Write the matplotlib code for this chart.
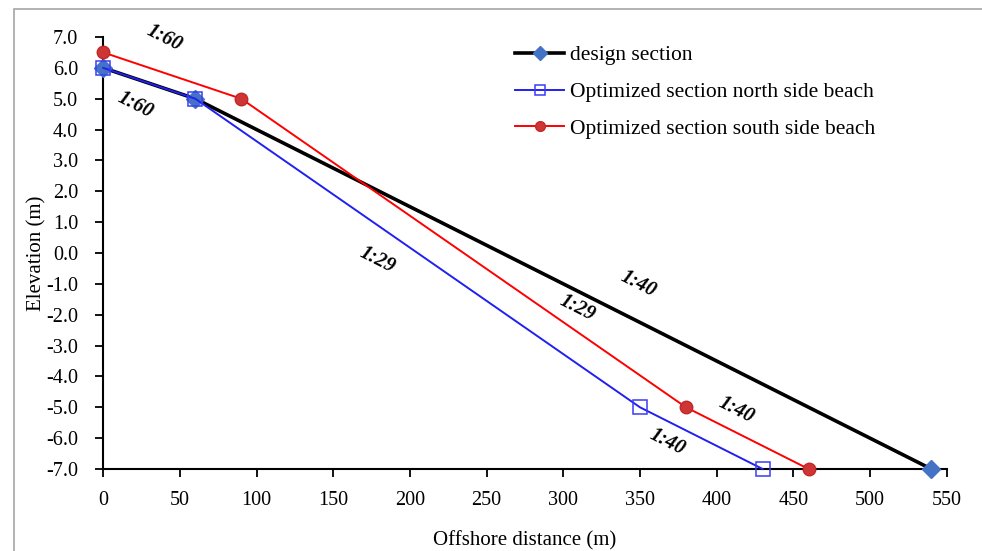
import matplotlib.pyplot as plt
from matplotlib.patches import Rectangle

# Beach profile sections: offshore distance (m) vs elevation (m)
design_x = [0, 60, 540]
design_y = [6.0, 5.0, -7.0]

north_x = [0, 60, 350, 430]
north_y = [6.0, 5.0, -5.0, -7.0]

south_x = [0, 90, 380, 460]
south_y = [6.5, 5.0, -5.0, -7.0]

# Slope labels: (text, x, y)
slope_labels = [
    ("1:60", 40, 6.97),
    ("1:60", 21, 4.80),
    ("1:29", 179, -0.23),
    ("1:29", 309, -1.78),
    ("1:40", 349, -1.0),
    ("1:40", 413, -5.09),
    ("1:40", 368, -6.12),
]

x_ticks = list(range(0, 551, 50))
y_ticks = list(range(-7, 8))

plt.rcParams["font.family"] = ["Liberation Serif", "DejaVu Serif"]
plt.rcParams["axes.unicode_minus"] = False

fig = plt.figure(figsize=(9.82, 5.51), dpi=100)
ax = fig.add_axes([0.1052, 0.1488, 0.964 - 0.1052, 0.9328 - 0.1488])

# thin grey frame around the chart
fig.patches.append(Rectangle((14 / 982, -0.1), 1.0, 1.1 - 9 / 551,
                             transform=fig.transFigure, fill=False,
                             edgecolor="#a6a6a6", linewidth=1.2))

ax.plot(design_x, design_y, color="black", linewidth=2.6, marker="D",
        markersize=9, markerfacecolor="#4472c4", markeredgecolor="#4472c4",
        label="design section", zorder=3)
ax.plot(north_x, north_y, color="#2020f0", linewidth=1.4, marker="s",
        markersize=9.5, markerfacecolor="none", markeredgecolor="#3c3cf5",
        markeredgewidth=1.1, label="Optimized section north side beach", zorder=4)
ax.plot(south_x, south_y, color="#ff0000", linewidth=1.4, marker="o",
        markersize=9, markerfacecolor="#d03535", markeredgecolor="#c02828",
        label="Optimized section south side beach", zorder=3)

for text, x, y in slope_labels:
    ax.text(x, y, text, rotation=-27, ha="center", va="center",
            fontsize=14.5, fontweight="bold", fontstyle="italic")

ax.set_xlim(0, 550)
ax.set_ylim(-7, 7)
ax.set_xticks(x_ticks)
ax.set_yticks(y_ticks)
ax.set_yticklabels([f"{v:.1f}" for v in y_ticks])
ax.tick_params(axis="both", labelsize=14.5, direction="out", length=6, width=1.3)
ax.tick_params(axis="x", pad=10)
ax.tick_params(axis="y", pad=12)

for side in ("top", "right"):
    ax.spines[side].set_visible(False)
for side in ("left", "bottom"):
    ax.spines[side].set_linewidth(1.5)
for line in ax.lines:
    line.set_clip_on(False)

ax.set_xlabel("Offshore distance (m)", fontsize=15, labelpad=15)
ax.set_ylabel("Elevation (m)", fontsize=15, labelpad=0)

leg = ax.legend(loc="upper left", bbox_to_anchor=(0.465, 1.026), frameon=False,
                fontsize=15.5, handlelength=2.3, handletextpad=0.25,
                labelspacing=0.78)
for handle in leg.legend_handles:
    handle.set_markersize(7)

fig.savefig("out.png", dpi=100)
